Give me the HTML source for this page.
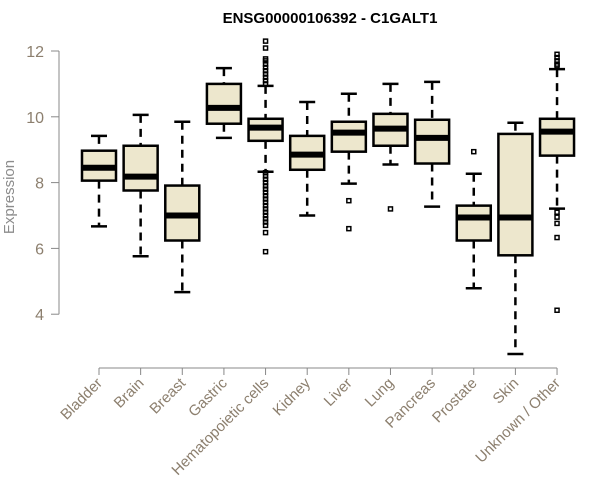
<!DOCTYPE html>
<html><head><meta charset="utf-8"><style>body{margin:0;background:#fff}svg{display:block;font-family:"Liberation Sans",sans-serif}</style></head>
<body>
<svg id="chart" width="600" height="500">
<text x="330" y="23" text-anchor="middle" font-weight="bold" font-size="15">ENSG00000106392 - C1GALT1</text>
<text transform="translate(14,197) rotate(-90)" text-anchor="middle" font-size="15" fill="#8c8c8c">Expression</text>
<g id="yaxis"></g>
<g id="xaxis"></g>
<g id="boxes"></g>
</svg>
<script>
const categories=["Bladder","Brain","Breast","Gastric","Hematopoietic cells","Kidney","Liver","Lung","Pancreas","Prostate","Skin","Unknown / Other"];
const lowWhisker=[6.67,5.76,4.67,9.36,8.33,7.0,7.97,8.55,7.27,4.79,2.79,7.21];
const q1=[8.06,7.76,6.24,9.79,9.27,8.39,8.94,9.12,8.58,6.24,5.79,8.82];
const medians=[8.45,8.18,7.0,10.27,9.67,8.85,9.52,9.64,9.36,6.94,6.94,9.55];
const q3=[8.97,9.12,7.91,11.0,9.94,9.42,9.85,10.09,9.91,7.3,9.48,9.94];
const highWhisker=[9.42,10.06,9.85,11.48,10.94,10.45,10.7,11.0,11.06,8.27,9.82,11.45];
const outliers=[[],[],[],[],[12.3,12.09,11.76,11.7,11.6,11.5,11.4,11.3,11.2,11.1,11.0,8.3,8.2,8.1,8.0,7.9,7.8,7.7,7.6,7.5,7.4,7.3,7.2,7.1,7.0,6.9,6.8,6.7,6.48,5.9],[],[7.45,6.6],[7.2],[],[8.94],[],[11.9,11.8,11.7,11.6,11.55,7.1,6.95,6.76,6.33,4.12]];
const yTicks=[4,6,8,10,12];
const NS="http://www.w3.org/2000/svg";
const y=v=>51+(12-v)*32.9;
const x=i=>99+i*41.64;
function mk(p,t,a){const e=document.createElementNS(NS,t);for(const k in a)e.setAttribute(k,a[k]);p.appendChild(e);return e;}
const ya=document.getElementById('yaxis'),xa=document.getElementById('xaxis'),bx=document.getElementById('boxes');
mk(ya,'line',{x1:59,x2:59,y1:y(12),y2:y(4),stroke:'#888'});
yTicks.forEach(t=>{
 const l=mk(ya,'line',{x1:51,x2:59,y1:y(t),y2:y(t),stroke:'#888'});
 
 
 const tx=mk(ya,'text',{x:44,y:y(t)+6,'text-anchor':'end','font-size':16,fill:'#8c7f6e'});
 tx.textContent=t;
 
 
});
mk(xa,'line',{x1:x(0),x2:x(11),y1:368,y2:368,stroke:'#888'});
categories.forEach((c,i)=>{
 const l=mk(xa,'line',{x1:x(i),x2:x(i),y1:368,y2:375,stroke:'#888'});
 
 
 const tx=mk(xa,'text',{transform:`translate(${x(i)+4},${384}) rotate(-45)`,'text-anchor':'end','font-size':15,fill:'#8c7f6e'});
 tx.textContent=c;
 
 
 const g=mk(bx,'g',{});
 
 
 const cx=x(i),hw=17,cw=8;
 mk(g,'line',{x1:cx,x2:cx,y1:y(highWhisker[i]),y2:y(q3[i]),stroke:'#000','stroke-width':2.5,'stroke-dasharray':'8,6'});
 mk(g,'line',{x1:cx,x2:cx,y1:y(q1[i]),y2:y(lowWhisker[i]),stroke:'#000','stroke-width':2.5,'stroke-dasharray':'8,6'});
 mk(g,'line',{x1:cx-cw,x2:cx+cw,y1:y(highWhisker[i]),y2:y(highWhisker[i]),stroke:'#000','stroke-width':2.5});
 mk(g,'line',{x1:cx-cw,x2:cx+cw,y1:y(lowWhisker[i]),y2:y(lowWhisker[i]),stroke:'#000','stroke-width':2.5});
 mk(g,'rect',{x:cx-hw,y:y(q3[i]),width:hw*2,height:y(q1[i])-y(q3[i]),fill:'#ede7cd',stroke:'#000','stroke-width':2.5});
 mk(g,'line',{x1:cx-hw,x2:cx+hw,y1:y(medians[i]),y2:y(medians[i]),stroke:'#000','stroke-width':6});
 outliers[i].forEach(v=>{
  const r=mk(g,'rect',{x:cx-2,y:y(v)-2,width:4,height:4,fill:'none',stroke:'#000','stroke-width':1.5});
  
  
 });
});
</script>
</body></html>
